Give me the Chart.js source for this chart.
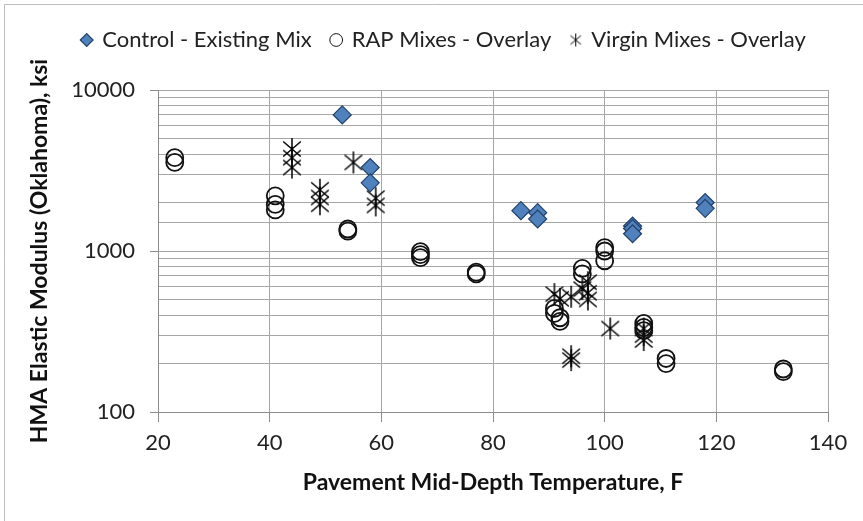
<!DOCTYPE html>
<html>
<head>
<meta charset="utf-8">
<script src="https://cdn.jsdelivr.net/npm/chart.js@4"></script>
<style>
  body { margin: 0; background: #fff; }
  #wrap { width: 863px; height: 521px; }
</style>
</head>
<body>
<div id="wrap"><canvas id="chart" width="863" height="521"></canvas></div>
<script>
// series values
const controlTemp = [53, 58, 58, 85, 88, 88, 105, 105, 105, 118, 118]
const controlModulus = [7000, 3300, 2650, 1780, 1730, 1580, 1430, 1380, 1280, 2000, 1840]

const rapTemp = [23, 23, 41, 41, 41, 54, 54, 67, 67, 67, 77, 77, 96, 96, 100, 100, 100, 91, 91, 92, 92, 107, 107, 107, 111, 111, 132, 132]
const rapModulus = [3800, 3550, 2200, 1950, 1800, 1370, 1330, 990, 950, 910, 740, 720, 780, 720, 1050, 1000, 870, 440, 410, 385, 365, 355, 335, 320, 215, 200, 185, 178]

const virginTemp = [44, 44, 44, 49, 49, 49, 55, 59, 59, 91, 92, 94, 96, 97, 97, 97, 94, 94, 101, 107, 107, 107]
const virginModulus = [4300, 3800, 3300, 2400, 2150, 1950, 3550, 2130, 1920, 540, 505, 520, 580, 640, 550, 500, 222, 210, 330, 330, 300, 280]

const seriesNames = ['Control - Existing Mix', 'RAP Mixes - Overlay', 'Virgin Mixes - Overlay']
const yMajorTicks = [100, 1000, 10000]

const FONT = 'Lato'

function pairs(xs, ys) {
  return xs.map((x, i) => ({ x: x, y: ys[i] }))
}

// asterisk marker: vertical bar plus an X
function asterisk(size, lw) {
  const c = document.createElement('canvas')
  c.width = size
  c.height = size
  const g = c.getContext('2d')
  const m = size / 2
  const r = size / 2 - 1
  const d = r * 0.8
  g.strokeStyle = '#000'
  g.lineWidth = lw
  g.beginPath()
  g.moveTo(m, m - r); g.lineTo(m, m + r)
  g.moveTo(m - d, m - d * 0.85); g.lineTo(m + d, m + d * 0.85)
  g.moveTo(m + d, m - d * 0.85); g.lineTo(m - d, m + d * 0.85)
  g.stroke()
  return c
}
const starBig = asterisk(24, 1.5)
const starSmall = asterisk(15, 1)

const framePlugin = {
  id: 'frame',
  beforeDraw(chart) {
    const c = chart.ctx
    c.save()
    c.strokeStyle = '#bdbdbd'
    c.lineWidth = 1
    c.beginPath()
    c.moveTo(4.5, 521)
    c.lineTo(4.5, 4.5)
    c.lineTo(863, 4.5)
    c.stroke()
    c.restore()
  }
}

// legend gets a fixed height so the plot starts lower
const legendHeight = {
  id: 'legendHeight',
  beforeLayout(chart) {
    const lg = chart.legend
    if (!lg || lg._fixed) return
    const fit = lg.fit
    lg.fit = function () {
      fit.call(this)
      this.height = 81
    }
    lg._fixed = true
  }
}

new Chart(document.getElementById('chart'), {
  type: 'scatter',
  data: {
    datasets: [
      {
        label: seriesNames[0],
        data: pairs(controlTemp, controlModulus),
        pointStyle: 'rectRot',
        pointRadius: 9,
        backgroundColor: '#4f81bd',
        borderColor: '#23406b',
        borderWidth: 1.2
      },
      {
        label: seriesNames[1],
        data: pairs(rapTemp, rapModulus),
        pointStyle: 'circle',
        pointRadius: 8.5,
        backgroundColor: 'rgba(0,0,0,0)',
        borderColor: '#111',
        borderWidth: 1.8
      },
      {
        label: seriesNames[2],
        data: pairs(virginTemp, virginModulus),
        pointStyle: starBig,
        pointRadius: 10,
        backgroundColor: '#000',
        borderColor: '#000',
        borderWidth: 1
      }
    ]
  },
  options: {
    responsive: false,
    animation: false,
    layout: { padding: { left: 28, right: 3, top: 9, bottom: 10 } },
    plugins: {
      tooltip: { enabled: false },
      legend: {
        position: 'top',
        labels: {
          usePointStyle: true,
          boxWidth: 9,
          boxHeight: 9,
          padding: 20,
          color: '#222',
          font: { family: FONT, size: 22 },
          generateLabels(chart) {
            const items = Chart.defaults.plugins.legend.labels.generateLabels(chart)
            items.forEach(it => {
              if (it.datasetIndex === 2) it.pointStyle = starSmall
              if (it.datasetIndex === 1) it.lineWidth = 1
            })
            return items
          }
        }
      }
    },
    scales: {
      x: {
        type: 'linear',
        min: 20,
        max: 140,
        ticks: { stepSize: 20, color: '#222', font: { family: FONT, size: 22 }, padding: 8 },
        grid: { color: '#a6a6a6', tickColor: '#8c8c8c', tickLength: 10 },
        border: { color: '#8c8c8c' },
        title: {
          display: true,
          text: 'Pavement Mid-Depth Temperature, F',
          color: '#111',
          font: { family: FONT, size: 23, weight: 'bold' },
          padding: { top: 0, bottom: 15 }
        },
        afterFit(scale) {
          scale.height = 99
          scale.paddingRight = 35
        }
      },
      y: {
        type: 'logarithmic',
        min: 100,
        max: 10000,
        ticks: {
          color: '#222',
          font: { family: FONT, size: 22 },
          padding: 15,
          autoSkip: false,
          callback(v) { return yMajorTicks.includes(v) ? String(v) : '' }
        },
        grid: {
          color: '#a6a6a6',
          tickLength: 8,
          tickColor(ctx) { return ctx.tick && yMajorTicks.includes(ctx.tick.value) ? '#8c8c8c' : 'rgba(0,0,0,0)' }
        },
        border: { color: '#8c8c8c' },
        title: {
          display: true,
          text: 'HMA Elastic Modulus (Oklahoma), ksi',
          color: '#111',
          font: { family: FONT, size: 23, weight: 'bold', lineHeight: 1 },
          padding: { top: 0, bottom: 0 }
        },
        afterFit(scale) { scale.width = 130 }
      }
    }
  },
  plugins: [framePlugin, legendHeight]
})
</script>
</body>
</html>
